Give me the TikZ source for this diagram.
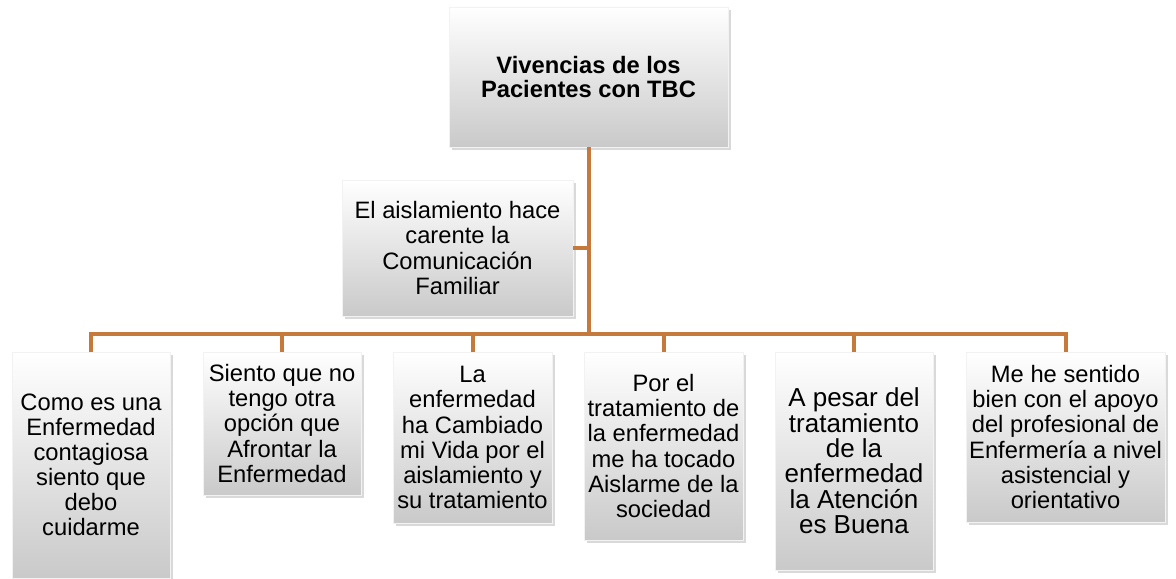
\documentclass[tikz,border=0pt]{standalone}
\usepackage{fontspec}
\setmainfont{Liberation Sans}
\usepackage{tikz}
\usetikzlibrary{shadows}
\definecolor{rama}{RGB}{197,121,58}

\begin{document}
\begin{tikzpicture}[x=0.75pt,y=-0.75pt]
\tikzset{caja/.style=
	{top color=white,bottom color=gray!42,draw=white!90!gray,line width=0.4pt,
	drop shadow={opacity=0.3,shadow xshift=2pt,shadow yshift=-2pt},
	inner sep=0pt,align=center,font=\fontsize{17.8}{18.8}\selectfont},
	linea/.style=
	{draw=rama,line width=3pt}}
\useasboundingbox (0,0) rectangle (1176,578);
\node[caja,minimum width=209pt,minimum height=105pt,
	font=\fontsize{17.8}{17.5}\selectfont\bfseries] (top) at (588.5,77)
	{Vivencias de los\\Pacientes con TBC};
\node[caja,minimum width=173pt,minimum height=102pt] (asst) at (457.5,248)
	{El aislamiento hace\\carente la\\Comunicación\\Familiar};
\node[caja,minimum width=118.5pt,minimum height=169.5pt] (b1) at (91,465)
	{Como es una\\Enfermedad\\contagiosa\\siento que\\debo\\cuidarme};
\node[caja,minimum width=118.5pt,minimum height=107pt] (b2) at (282,423.5)
	{Siento que no\\tengo otra\\opción que\\Afrontar la\\Enfermedad};
\node[caja,minimum width=119pt,minimum height=128pt] (b3) at (472.5,437.5)
	{La\\enfermedad\\ha Cambiado\\mi Vida por el\\aislamiento y\\su tratamiento};
\node[caja,minimum width=119pt,minimum height=141pt] (b4) at (663.5,446)
	{Por el\\tratamiento de\\la enfermedad\\me ha tocado\\Aislarme de la\\sociedad};
\node[caja,minimum width=118.5pt,minimum height=163.5pt,
	font=\fontsize{19.5}{19}\selectfont] (b5) at (854,461)
	{A pesar del\\tratamiento\\de la\\enfermedad\\la Atención\\es Buena};
\node[caja,minimum width=149pt,minimum height=127.5pt] (b6) at (1065.5,437)
	{Me he sentido\\bien con el apoyo\\del profesional de\\Enfermería a nivel\\asistencial y\\orientativo};
% ramas
\coordinate (hub) at (588.5,334);
\draw[linea] (top) -- (hub);
\draw[linea] (asst) -- (asst -| hub);
\draw[linea] (hub) -| (b1);
\draw[linea] (hub) -| (b2);
\draw[linea] (hub) -| (b3);
\draw[linea] (hub) -| (b4);
\draw[linea] (hub) -| (b5);
\draw[linea] (hub) -| (b6);
\end{tikzpicture}
\end{document}
